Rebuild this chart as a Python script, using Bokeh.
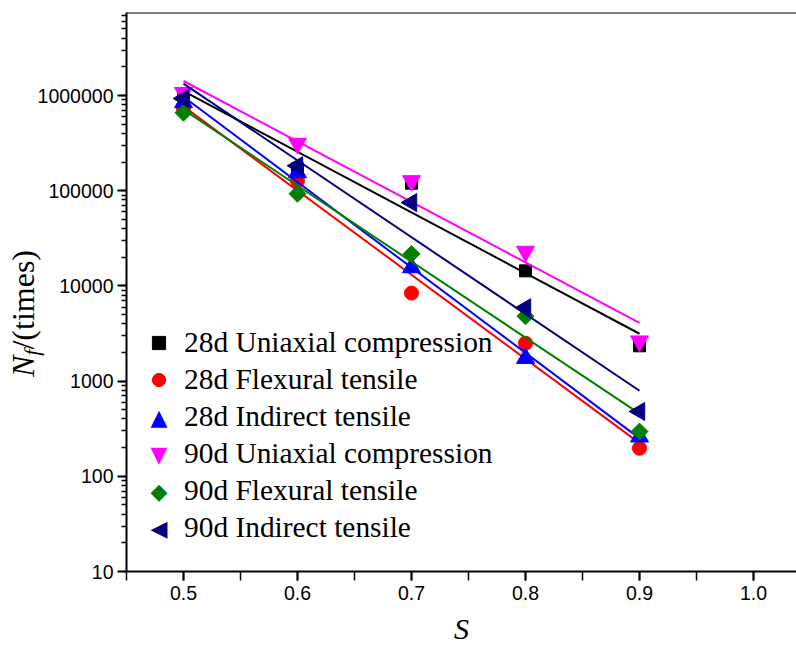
import numpy as np
from bokeh.plotting import figure
from bokeh.models import (Range1d, LogTicker, SingleIntervalTicker, NumeralTickFormatter,
                          PrintfTickFormatter, Legend, LegendItem, Label, Span, Div)
from bokeh.layouts import row
from bokeh.embed import file_html
from bokeh.resources import INLINE

# ---------------- data ----------------
stress_ratio = [0.5, 0.6, 0.7, 0.8, 0.9]

uc28 = [1050000, 170000, 120000, 14400, 2350]
ft28 = [730000, 127000, 8400, 2500, 197]
it28 = [845000, 155000, 15600, 1740, 260]
uc90 = [1070000, 313000, 127000, 23000, 2630]
ft90 = [660000, 93000, 21700, 4800, 295]
it90 = [930000, 183000, 75000, 5900, 480]

series_names = ["28d Uniaxial compression", "28d Flexural tensile", "28d Indirect tensile",
                "90d Uniaxial compression", "90d Flexural tensile", "90d Indirect tensile"]
series_values = [uc28, ft28, it28, uc90, ft90, it90]
series_colors = ["#000000", "#ff0000", "#0000ff", "#ff00ff", "#008000", "#000080"]
series_markers = ["square", "circle", "triangle", "inverted_triangle", "square", "triangle"]
series_sizes = [12, 14, 18, 18, 12, 18]
series_angles = [0, 0, 0, 0, np.pi / 4, np.pi / 2]
# legend symbols drawn as characters where Bokeh's legend cannot rotate the marker
legend_symbols = [None, None, "\u25B2", "\u25BC", "\u25C6", "\u25C0"]

y_start, y_end = 10, 7.45e6
x_start, x_end = 0.45, 1.0377

FRAME_L, FRAME_B = 126, 571       # page pixels of frame left / bottom
PX_X, PX_DEC = 1140.0, 95.2       # pixels per x unit / per decade

def px_to_x(px):
    return x_start + (px - FRAME_L) / PX_X

def py_to_y(py):
    return 10 ** (1 + (FRAME_B - py) / PX_DEC)

# ---------------- figure ----------------
LAB_W = 14
p = figure(frame_width=670, frame_height=559, output_backend="svg", toolbar_location=None,
           y_axis_type="log",
           x_range=Range1d(x_start, x_end), y_range=Range1d(y_start, y_end),
           min_border_left=FRAME_L - LAB_W, min_border_right=0, min_border_top=12,
           min_border_bottom=77, margin=0)
p.outline_line_color = None
p.grid.visible = False
p.border_fill_alpha = 0

items = []
for name, vals, col, mk, sz, ang, sym in zip(series_names, series_values, series_colors,
                                              series_markers, series_sizes, series_angles,
                                              legend_symbols):
    xs = np.array(stress_ratio)
    ys = np.array(vals, dtype=float)
    k, b = np.polyfit(xs, np.log10(ys), 1)
    fx = np.array([xs.min(), xs.max()])
    fy = 10 ** (k * fx + b)
    p.line(fx, fy, line_color=col, line_width=2)
    r = p.scatter(xs, ys, marker=mk, size=sz, angle=ang, fill_color=col, line_color=col)
    if sym is None:
        items.append(LegendItem(label=name, renderers=[r]))
    else:
        dummy = p.scatter([], [], marker="square", fill_alpha=0, line_alpha=0)
        items.append(LegendItem(label=name, renderers=[dummy]))

LEG_GLYPH, LEG_SPACING, LEG_Y = 33, 4, 27
legend = Legend(items=items, location=(16, LEG_Y), orientation="vertical",
                background_fill_alpha=0, border_line_color=None,
                label_text_font="Liberation Serif", label_text_font_size="29.4px",
                label_text_color="black",
                glyph_width=LEG_GLYPH, glyph_height=LEG_GLYPH, label_height=LEG_GLYPH,
                label_standoff=9, spacing=LEG_SPACING, padding=0, margin=0)
p.add_layout(legend, "center")

# legend symbols for rotated / non-standard markers
n_items = len(series_names)
for i, (sym, col) in enumerate(zip(legend_symbols, series_colors)):
    if sym is None:
        continue
    row_center = FRAME_B - LEG_Y - LEG_GLYPH / 2 - (n_items - 1 - i) * (LEG_GLYPH + LEG_SPACING)
    p.add_layout(Label(x=px_to_x(FRAME_L + 16 + LEG_GLYPH / 2), y=py_to_y(row_center),
                       text=sym, text_align="center", text_baseline="middle",
                       text_font="DejaVu Sans", text_font_size="22px", text_color=col))

# ---------------- axes ----------------
for ax in (p.xaxis[0], p.yaxis[0]):
    ax.axis_line_width = 2
    ax.axis_line_color = "black"
    ax.major_tick_line_width = 2
    ax.minor_tick_line_width = 1.5
    ax.major_tick_line_color = "black"
    ax.minor_tick_line_color = "black"
    ax.major_tick_in = 0
    ax.minor_tick_in = 0
    ax.major_label_text_font = "Liberation Sans"
    ax.major_label_text_font_size = "19.5px"
    ax.major_label_text_color = "black"

p.xaxis.ticker = SingleIntervalTicker(interval=0.1, num_minor_ticks=2)
p.xaxis.formatter = PrintfTickFormatter(format="%.1f")
p.xaxis.major_tick_out = 9
p.xaxis.minor_tick_out = 9
p.xaxis.major_label_standoff = 5
p.xaxis.axis_label = "S"
p.xaxis.axis_label_text_font = "Liberation Serif"
p.xaxis.axis_label_text_font_style = "italic"
p.xaxis.axis_label_text_font_size = "30px"
p.xaxis.axis_label_text_color = "black"
p.xaxis.axis_label_standoff = 9

p.yaxis.ticker = LogTicker(mantissas=[1], num_minor_ticks=10)
p.yaxis.formatter = NumeralTickFormatter(format="0")
p.yaxis.major_tick_out = 9
p.yaxis.minor_tick_out = 5
p.yaxis.major_label_standoff = 4

# top border line
p.add_layout(Span(location=y_end, dimension="width", line_color="black", line_width=2))

# ---------------- y axis title: N_f/(times) ----------------
ylab_html = ('<div style="position:absolute; left:7px; top:377px; transform:rotate(-90deg); '
             'transform-origin:0 0; white-space:nowrap; font-family:\'Liberation Serif\'; '
             'font-size:32px; line-height:32px; color:#000;">'
             '<i>N</i><sub style="font-size:22px; vertical-align:-5px;"><i>f</i></sub>/(times)</div>')
ylab = Div(text=ylab_html, width=LAB_W, height=648, margin=0, styles={"overflow": "visible"})

layout = row(ylab, p)
open("out.html", "w").write(file_html(layout, INLINE))
